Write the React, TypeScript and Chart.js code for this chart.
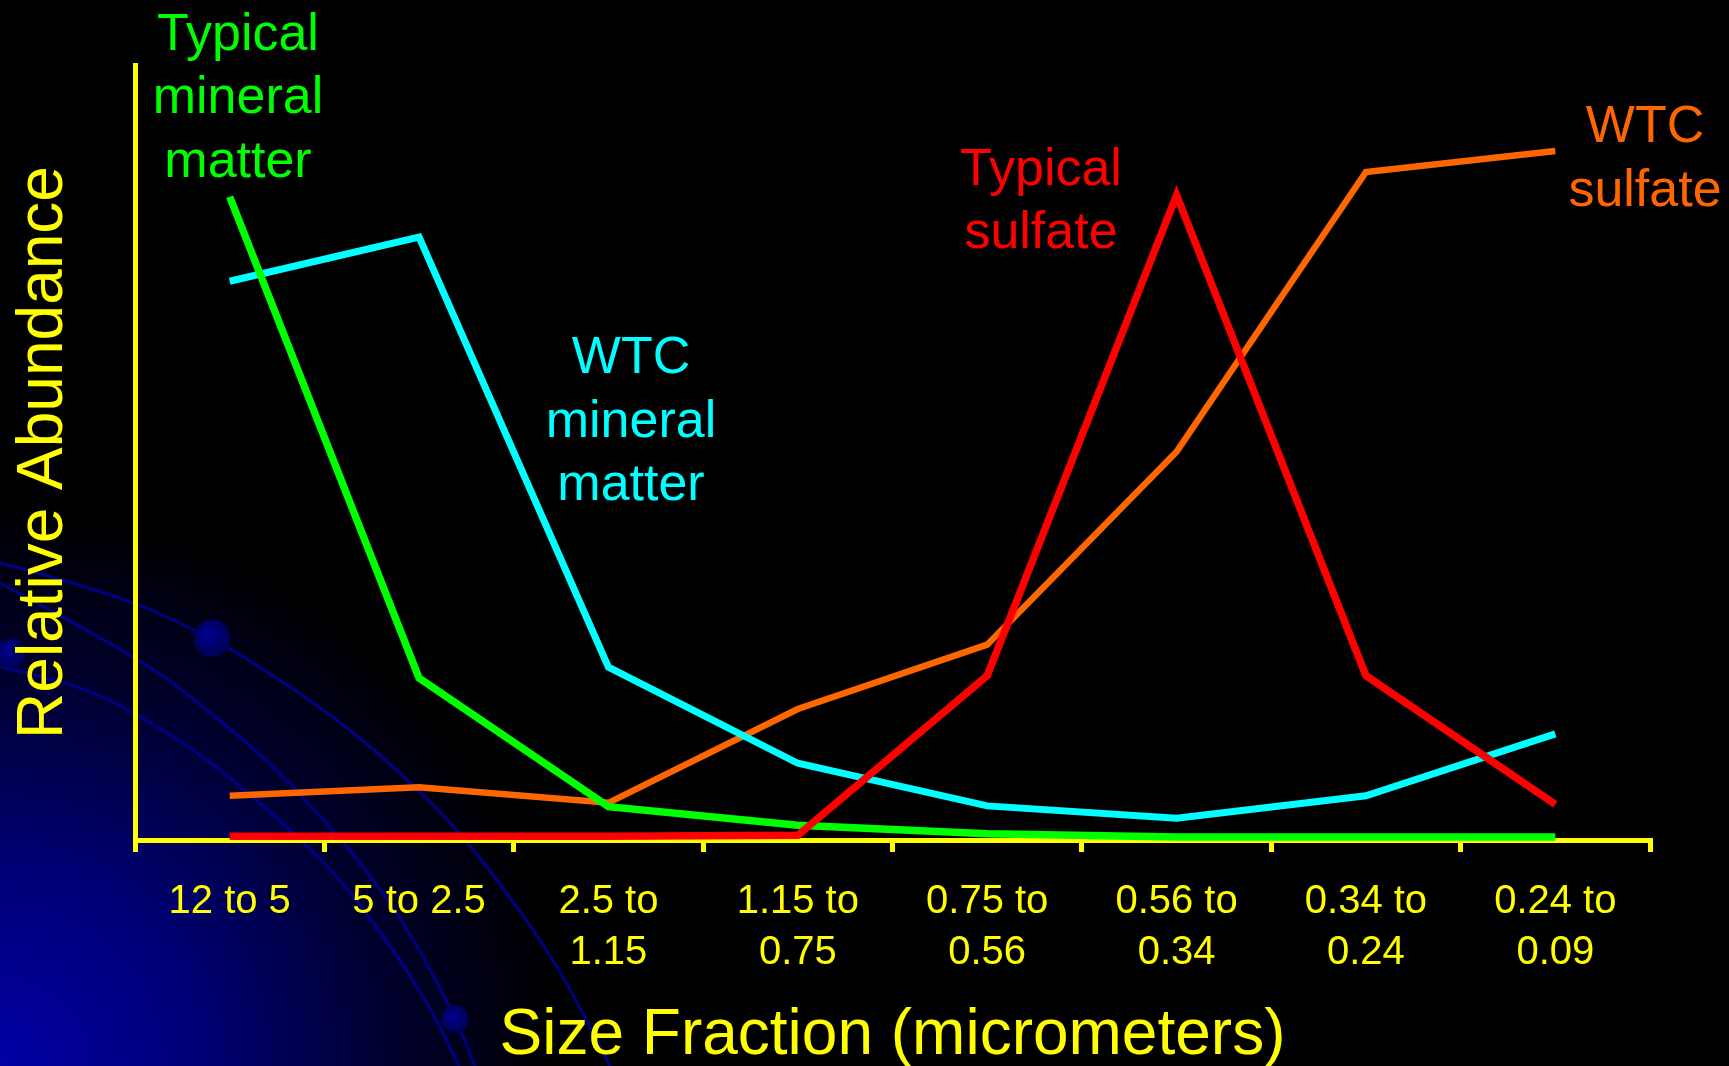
import React, { useEffect, useRef } from "react";
import { Chart, registerables } from "chart.js";

Chart.register(...registerables);

// ---- data ----
const categories: (string | string[])[] = [
  "12 to 5",
  "5 to 2.5",
  ["2.5 to", "1.15"],
  ["1.15 to", "0.75"],
  ["0.75 to", "0.56"],
  ["0.56 to", "0.34"],
  ["0.34 to", "0.24"],
  ["0.24 to", "0.09"],
];
const typicalMineral = [83.0, 20.9, 4.3, 1.9, 0.8, 0.4, 0.4, 0.4];
const wtcMineral = [72.1, 77.8, 22.3, 9.9, 4.4, 2.8, 5.7, 13.7];
const typicalSulfate = [0.5, 0.5, 0.5, 0.6, 21.2, 83.2, 21.2, 4.6];
const wtcSulfate = [5.7, 6.8, 4.8, 16.9, 25.2, 50.1, 86.2, 88.9];
const seriesNames = [
  "Typical mineral matter",
  "WTC mineral matter",
  "Typical sulfate",
  "WTC sulfate",
];
const seriesLabelLines = [
  ["Typical", "mineral", "matter"],
  ["WTC", "mineral", "matter"],
  ["Typical", "sulfate"],
  ["WTC", "sulfate"],
];
const xTitle = "Size Fraction (micrometers)";
const yTitle = "Relative Abundance";
const yMin = 0;
const yMax = 100;

// ---- styles ----
const W = 1729;
const H = 1066;
const FONT = "Arial, 'Liberation Sans', Helvetica, sans-serif";
const YELLOW = "#FFFF00";
const colors = ["#00FF00", "#00FFFF", "#FF0000", "#FF6600"];
const widths = [7.5, 7, 7.5, 6.5];
const orders = [1, 2, 0, 3];
// label placement: center x, baselines (px)
const labelPos = [
  { x: 238, ys: [50, 113, 177] },
  { x: 631, ys: [373, 437, 500] },
  { x: 1041, ys: [185, 248] },
  { x: 1645, ys: [142, 206] },
];

const decorCurves: [number, number][][] = [
  [[0, 563], [115, 593], [212, 638], [260, 667], [329, 713], [390, 763], [452, 823], [503, 887], [559, 967], [610, 1066]],
  [[0, 583], [138, 657], [199, 703], [264, 757], [318, 813], [367, 870], [413, 937], [455, 1017], [475, 1066]],
  [[0, 667], [77, 683], [153, 723], [218, 767], [283, 823], [337, 875], [387, 940], [432, 1010], [459, 1066]],
];
const decorDots: [number, number, number][] = [
  [212, 638, 19],
  [11, 653, 15],
  [455, 1019, 14],
];

const backgroundPlugin = {
  id: "slideBackground",
  beforeDraw(chart: any) {
    const ctx = chart.ctx as CanvasRenderingContext2D;
    ctx.save();
    ctx.fillStyle = "#000000";
    ctx.fillRect(0, 0, chart.width, chart.height);
    const g = ctx.createRadialGradient(0, H, 0, 0, H, 560);
    g.addColorStop(0, "rgb(0,0,165)");
    g.addColorStop(0.35, "rgb(0,0,120)");
    g.addColorStop(0.7, "rgb(0,0,45)");
    g.addColorStop(1, "rgb(0,0,0)");
    ctx.fillStyle = g;
    ctx.fillRect(0, 0, chart.width, chart.height);
    ctx.strokeStyle = "rgb(0,0,135)";
    ctx.lineWidth = 3;
    ctx.lineJoin = "round";
    for (const pts of decorCurves) {
      ctx.beginPath();
      ctx.moveTo(pts[0][0], pts[0][1]);
      for (let i = 1; i < pts.length - 1; i++) {
        const mx = (pts[i][0] + pts[i + 1][0]) / 2;
        const my = (pts[i][1] + pts[i + 1][1]) / 2;
        ctx.quadraticCurveTo(pts[i][0], pts[i][1], mx, my);
      }
      const last = pts[pts.length - 1];
      ctx.lineTo(last[0], last[1]);
      ctx.stroke();
    }
    for (const [x, y, r] of decorDots) {
      const dg = ctx.createRadialGradient(x - r * 0.3, y - r * 0.3, 0, x, y, r);
      dg.addColorStop(0, "rgb(0,0,150)");
      dg.addColorStop(1, "rgb(0,0,85)");
      ctx.fillStyle = dg;
      ctx.beginPath();
      ctx.ellipse(x, y, r * 0.95, r, 0, 0, Math.PI * 2);
      ctx.fill();
    }
    ctx.restore();
  },
};

const seriesLabelPlugin = {
  id: "seriesLabels",
  afterDraw(chart: any) {
    const ctx = chart.ctx as CanvasRenderingContext2D;
    ctx.save();
    ctx.font = `52px ${FONT}`;
    ctx.textAlign = "center";
    ctx.textBaseline = "alphabetic";
    seriesLabelLines.forEach((lines, i) => {
      ctx.fillStyle = colors[i];
      const pos = labelPos[i];
      lines.forEach((t, j) => ctx.fillText(t, pos.x, pos.ys[j]));
    });
    ctx.restore();
  },
};

export default function App() {
  const ref = useRef<HTMLCanvasElement | null>(null);
  useEffect(() => {
    if (!ref.current) return;
    const series = [typicalMineral, wtcMineral, typicalSulfate, wtcSulfate];
    const chart = new Chart(ref.current, {
      type: "line",
      data: {
        labels: categories as any,
        datasets: series.map((d, i) => ({
          label: seriesNames[i],
          data: d,
          borderColor: colors[i],
          backgroundColor: colors[i],
          borderWidth: widths[i],
          pointRadius: 0,
          pointHoverRadius: 0,
          tension: 0,
          fill: false,
          order: orders[i],
          clip: false as any,
          borderJoinStyle: "miter" as const,
          borderCapStyle: "butt" as const,
        })),
      },
      options: {
        animation: false,
        responsive: false,
        maintainAspectRatio: false,
        devicePixelRatio: 1,
        events: [],
        layout: { padding: { top: 65, right: 79, left: 0, bottom: 0 } },
        plugins: {
          legend: { display: false },
          tooltip: { enabled: false },
          title: { display: false },
        },
        scales: {
          x: {
            type: "category",
            offset: true,
            grid: {
              display: true,
              offset: true,
              drawOnChartArea: false,
              drawTicks: true,
              tickLength: 12,
              color: YELLOW,
              lineWidth: 5,
            },
            border: { display: true, color: YELLOW, width: 5 },
            ticks: {
              color: YELLOW,
              font: { family: FONT, size: 40, lineHeight: 1.275 },
              padding: 24,
              maxRotation: 0,
              minRotation: 0,
              autoSkip: false,
            },
            title: {
              display: true,
              text: xTitle,
              color: YELLOW,
              font: { family: FONT, size: 64, lineHeight: 0.9 },
              padding: { top: 0, bottom: 1 },
            },
            afterFit: (s: any) => {
              s.height = H - 840;
            },
          },
          y: {
            min: yMin,
            max: yMax,
            grid: { display: false },
            border: { display: true, color: YELLOW, width: 5 },
            ticks: { display: false },
            title: {
              display: true,
              text: yTitle,
              color: YELLOW,
              font: { family: FONT, size: 64, lineHeight: 1 },
              padding: { top: 12, bottom: 0 },
            },
            afterFit: (s: any) => {
              s.width = 135;
            },
          },
        },
      },
      plugins: [backgroundPlugin, seriesLabelPlugin],
    });
    return () => chart.destroy();
  }, []);

  return (
    <div
      style={{
        position: "absolute",
        left: 0,
        top: 0,
        width: W,
        height: H,
        background: "#000",
        overflow: "hidden",
      }}
    >
      <canvas ref={ref} width={W} height={H} style={{ display: "block", width: W, height: H }} />
    </div>
  );
}
